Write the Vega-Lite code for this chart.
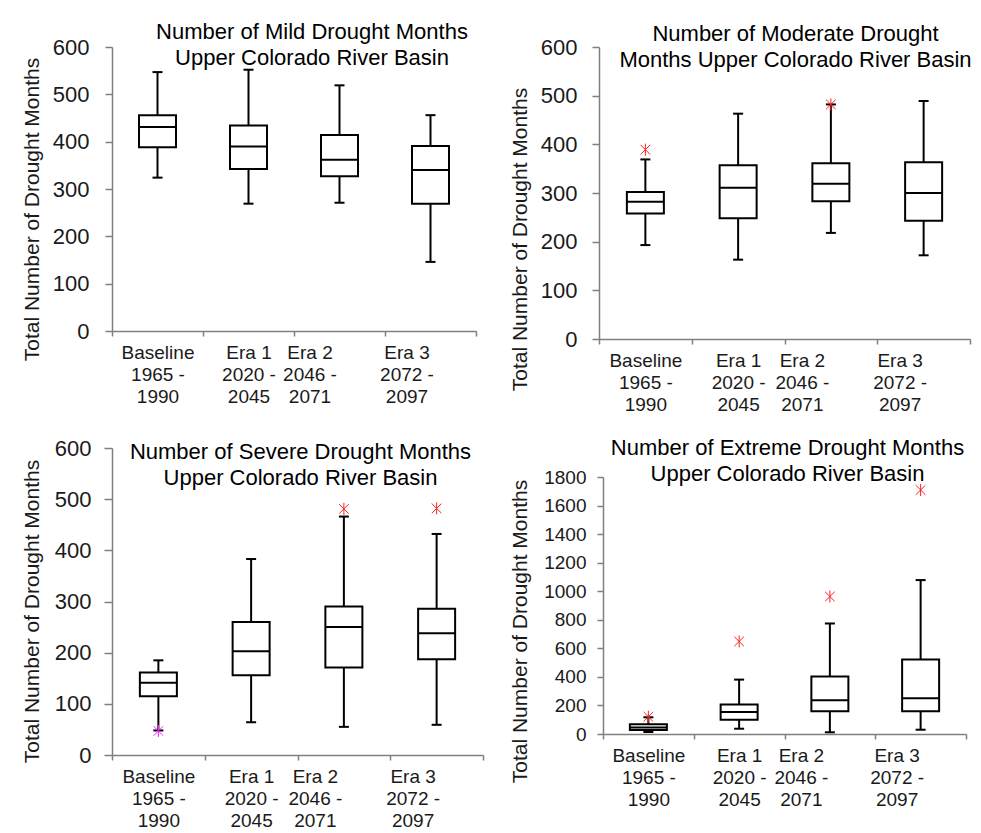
{
  "$schema": "https://vega.github.io/schema/vega-lite/v6.json",
  "background": "white",
  "padding": {"left": 21, "top": 21, "right": 0, "bottom": 0},
  "config": {
    "font": "Liberation Sans",
    "view": {"stroke": null},
    "axis": {
      "domainColor": "#7f7f7f", "domainWidth": 1.5, "tickColor": "#7f7f7f", "tickWidth": 1.5,
      "labelColor": "#1a1a1a", "titleColor": "#1a1a1a", "labelFont": "Liberation Sans", "titleFont": "Liberation Sans",
      "titleFontWeight": "normal", "grid": false
    },
    "axisY": {"labelFontSize": 22, "labelPadding": 15, "tickSize": 7, "titleFontSize": 21, "format": "d", "labelOverlap": false, "labelBound": false},
    "title": {"font": "Liberation Sans", "fontWeight": "normal", "color": "#000000", "fontSize": 22, "lineHeight": 26, "frame": "group", "anchor": "middle"}
  },
  "datasets": {
    "boxes": [
      {"panel": "Mild", "era": "Baseline|1965 -|1990", "min": 324, "q1": 388, "med": 431, "q3": 456, "max": 547},
      {"panel": "Mild", "era": "Era 1|2020 -|2045", "min": 269, "q1": 342, "med": 390, "q3": 434, "max": 552},
      {"panel": "Mild", "era": "Era 2|2046 -|2071", "min": 271, "q1": 327, "med": 362, "q3": 414, "max": 519},
      {"panel": "Mild", "era": "Era 3|2072 -|2097", "min": 146, "q1": 269, "med": 340, "q3": 391, "max": 456},
      {"panel": "Moderate", "era": "Baseline|1965 -|1990", "min": 193, "q1": 258, "med": 282, "q3": 302, "max": 369},
      {"panel": "Moderate", "era": "Era 1|2020 -|2045", "min": 163, "q1": 248, "med": 311, "q3": 357, "max": 463},
      {"panel": "Moderate", "era": "Era 2|2046 -|2071", "min": 218, "q1": 283, "med": 319, "q3": 361, "max": 482},
      {"panel": "Moderate", "era": "Era 3|2072 -|2097", "min": 172, "q1": 243, "med": 300, "q3": 363, "max": 489},
      {"panel": "Severe", "era": "Baseline|1965 -|1990", "min": 48, "q1": 115, "med": 141, "q3": 161, "max": 185},
      {"panel": "Severe", "era": "Era 1|2020 -|2045", "min": 64, "q1": 156, "med": 203, "q3": 260, "max": 383},
      {"panel": "Severe", "era": "Era 2|2046 -|2071", "min": 55, "q1": 171, "med": 250, "q3": 290, "max": 466},
      {"panel": "Severe", "era": "Era 3|2072 -|2097", "min": 59, "q1": 187, "med": 238, "q3": 286, "max": 432},
      {"panel": "Extreme", "era": "Baseline|1965 -|1990", "min": 14, "q1": 28, "med": 45, "q3": 68, "max": 117},
      {"panel": "Extreme", "era": "Era 1|2020 -|2045", "min": 37, "q1": 100, "med": 154, "q3": 206, "max": 381},
      {"panel": "Extreme", "era": "Era 2|2046 -|2071", "min": 12, "q1": 159, "med": 236, "q3": 402, "max": 774},
      {"panel": "Extreme", "era": "Era 3|2072 -|2097", "min": 30, "q1": 159, "med": 250, "q3": 521, "max": 1078}
    ],
    "outliers": [
      {"panel": "Moderate", "era": "Baseline|1965 -|1990", "value": 389, "color": "#ff2020"},
      {"panel": "Moderate", "era": "Era 2|2046 -|2071", "value": 482, "color": "#ff2020"},
      {"panel": "Severe", "era": "Baseline|1965 -|1990", "value": 47, "color": "#ff20ff"},
      {"panel": "Severe", "era": "Era 2|2046 -|2071", "value": 481, "color": "#ff2020"},
      {"panel": "Severe", "era": "Era 3|2072 -|2097", "value": 482, "color": "#ff2020"},
      {"panel": "Extreme", "era": "Baseline|1965 -|1990", "value": 121, "color": "#ff2020"},
      {"panel": "Extreme", "era": "Era 1|2020 -|2045", "value": 648, "color": "#ff2020"},
      {"panel": "Extreme", "era": "Era 2|2046 -|2071", "value": 963, "color": "#ff2020"},
      {"panel": "Extreme", "era": "Era 3|2072 -|2097", "value": 1709, "color": "#ff2020"}
    ]
  },
  "columns": 2,
  "align": "none",
  "spacing": {"row": 23, "column": 25},
  "concat": [
    {
      "width": 364, "height": 284,
      "title": {"text": ["Number of Mild Drought Months", "Upper Colorado River Basin"], "offset": -34, "dx": 18},
      "encoding": {
        "x": {"field": "era", "type": "nominal",
          "scale": {"domain": ["Baseline|1965 -|1990", "Era 1|2020 -|2045", "Era 2|2046 -|2071", "Era 3|2072 -|2097"], "paddingInner": 0, "paddingOuter": 0},
          "axis": {"title": null, "labelAngle": 0, "labelExpr": "split(datum.label, '|')", "labelFontSize": 19, "labelLineHeight": 22, "labelPadding": 7, "tickSize": 5, "tickBand": "extent",
            "labelOffset": {"condition": [{"test": "datum.value == 'Era 2|2046 -|2071'", "value": -30}, {"test": "datum.value == 'Era 3|2072 -|2097'", "value": -24}], "value": 0}}}
      },
      "layer": [
        {"data": {"name": "boxes"}, "transform": [{"filter": "datum.panel == 'Mild'"}],
          "mark": {"type": "rule", "color": "black", "strokeWidth": 2},
          "encoding": {"y": {"field": "min", "type": "quantitative", "scale": {"domain": [0, 600], "nice": false},
            "axis": {"title": "Total Number of Drought Months", "values": [0, 100, 200, 300, 400, 500, 600], "labelFontSize": 22, "labelPadding": 16, "tickSize": 7, "titlePadding": 10, "titleY": 162}},
            "y2": {"field": "max"}}},
        {"data": {"name": "boxes"}, "transform": [{"filter": "datum.panel == 'Mild'"}],
          "mark": {"type": "bar", "size": 37, "fill": "white", "stroke": "black", "strokeWidth": 2},
          "encoding": {"y": {"field": "q1", "type": "quantitative", "scale": {"domain": [0, 600], "nice": false},
            "axis": {"title": "Total Number of Drought Months", "values": [0, 100, 200, 300, 400, 500, 600], "labelFontSize": 22, "labelPadding": 16, "tickSize": 7, "titlePadding": 10, "titleY": 162}}, "y2": {"field": "q3"}}},
        {"data": {"name": "boxes"}, "transform": [{"filter": "datum.panel == 'Mild'"}],
          "mark": {"type": "tick", "size": 37, "thickness": 2, "color": "black", "opacity": 1},
          "encoding": {"y": {"field": "med", "type": "quantitative", "scale": {"domain": [0, 600], "nice": false},
            "axis": {"title": "Total Number of Drought Months", "values": [0, 100, 200, 300, 400, 500, 600], "labelFontSize": 22, "labelPadding": 16, "tickSize": 7, "titlePadding": 10, "titleY": 162}}}},
        {"data": {"name": "boxes"}, "transform": [{"filter": "datum.panel == 'Mild'"}],
          "mark": {"type": "tick", "size": 10, "thickness": 2, "color": "black", "opacity": 1},
          "encoding": {"y": {"field": "min", "type": "quantitative", "scale": {"domain": [0, 600], "nice": false},
            "axis": {"title": "Total Number of Drought Months", "values": [0, 100, 200, 300, 400, 500, 600], "labelFontSize": 22, "labelPadding": 16, "tickSize": 7, "titlePadding": 10, "titleY": 162}}}},
        {"data": {"name": "boxes"}, "transform": [{"filter": "datum.panel == 'Mild'"}],
          "mark": {"type": "tick", "size": 10, "thickness": 2, "color": "black", "opacity": 1},
          "encoding": {"y": {"field": "max", "type": "quantitative", "scale": {"domain": [0, 600], "nice": false},
            "axis": {"title": "Total Number of Drought Months", "values": [0, 100, 200, 300, 400, 500, 600], "labelFontSize": 22, "labelPadding": 16, "tickSize": 7, "titlePadding": 10, "titleY": 162}}}}
      ]
    },
    {
      "width": 371, "height": 292,
      "title": {"text": ["Number of Moderate Drought", "Months Upper Colorado River Basin"], "offset": -36, "dx": 11},
      "encoding": {
        "x": {"field": "era", "type": "nominal",
          "scale": {"domain": ["Baseline|1965 -|1990", "Era 1|2020 -|2045", "Era 2|2046 -|2071", "Era 3|2072 -|2097"], "paddingInner": 0, "paddingOuter": 0},
          "axis": {"title": null, "labelAngle": 0, "labelExpr": "split(datum.label, '|')", "labelFontSize": 19, "labelLineHeight": 22, "labelPadding": 7, "tickSize": 5, "tickBand": "extent",
            "labelOffset": {"condition": [{"test": "datum.value == 'Era 2|2046 -|2071'", "value": -29}, {"test": "datum.value == 'Era 3|2072 -|2097'", "value": -24}], "value": 0}}}
      },
      "layer": [
        {"data": {"name": "boxes"}, "transform": [{"filter": "datum.panel == 'Moderate'"}],
          "mark": {"type": "rule", "color": "black", "strokeWidth": 2},
          "encoding": {"y": {"field": "min", "type": "quantitative", "scale": {"domain": [0, 600], "nice": false},
            "axis": {"title": "Total Number of Drought Months", "values": [0, 100, 200, 300, 400, 500, 600], "labelFontSize": 22, "labelPadding": 15, "tickSize": 7, "titlePadding": 10, "titleY": 192}},
            "y2": {"field": "max"}}},
        {"data": {"name": "boxes"}, "transform": [{"filter": "datum.panel == 'Moderate'"}],
          "mark": {"type": "bar", "size": 37, "fill": "white", "stroke": "black", "strokeWidth": 2},
          "encoding": {"y": {"field": "q1", "type": "quantitative", "scale": {"domain": [0, 600], "nice": false},
            "axis": {"title": "Total Number of Drought Months", "values": [0, 100, 200, 300, 400, 500, 600], "labelFontSize": 22, "labelPadding": 15, "tickSize": 7, "titlePadding": 10, "titleY": 192}}, "y2": {"field": "q3"}}},
        {"data": {"name": "boxes"}, "transform": [{"filter": "datum.panel == 'Moderate'"}],
          "mark": {"type": "tick", "size": 37, "thickness": 2, "color": "black", "opacity": 1},
          "encoding": {"y": {"field": "med", "type": "quantitative", "scale": {"domain": [0, 600], "nice": false},
            "axis": {"title": "Total Number of Drought Months", "values": [0, 100, 200, 300, 400, 500, 600], "labelFontSize": 22, "labelPadding": 15, "tickSize": 7, "titlePadding": 10, "titleY": 192}}}},
        {"data": {"name": "boxes"}, "transform": [{"filter": "datum.panel == 'Moderate'"}],
          "mark": {"type": "tick", "size": 10, "thickness": 2, "color": "black", "opacity": 1},
          "encoding": {"y": {"field": "min", "type": "quantitative", "scale": {"domain": [0, 600], "nice": false},
            "axis": {"title": "Total Number of Drought Months", "values": [0, 100, 200, 300, 400, 500, 600], "labelFontSize": 22, "labelPadding": 15, "tickSize": 7, "titlePadding": 10, "titleY": 192}}}},
        {"data": {"name": "boxes"}, "transform": [{"filter": "datum.panel == 'Moderate'"}],
          "mark": {"type": "tick", "size": 10, "thickness": 2, "color": "black", "opacity": 1},
          "encoding": {"y": {"field": "max", "type": "quantitative", "scale": {"domain": [0, 600], "nice": false},
            "axis": {"title": "Total Number of Drought Months", "values": [0, 100, 200, 300, 400, 500, 600], "labelFontSize": 22, "labelPadding": 15, "tickSize": 7, "titlePadding": 10, "titleY": 192}}}},
        {"data": {"name": "outliers"}, "transform": [{"filter": "datum.panel == 'Moderate'"}],
          "mark": {"type": "point", "shape": "M-0.8,-0.8L0.8,0.8M-0.8,0.8L0.8,-0.8M0,-1L0,1", "size": 144, "strokeWidth": 1, "filled": false, "opacity": 1},
          "encoding": {"y": {"field": "value", "type": "quantitative", "scale": {"domain": [0, 600], "nice": false},
            "axis": {"title": "Total Number of Drought Months", "values": [0, 100, 200, 300, 400, 500, 600], "labelFontSize": 22, "labelPadding": 15, "tickSize": 7, "titlePadding": 10, "titleY": 192}},
            "color": {"field": "color", "type": "nominal", "scale": null}}}
      ]
    },
    {
      "width": 371, "height": 307,
      "title": {"text": ["Number of Severe Drought Months", "Upper Colorado River Basin"], "offset": -53, "dx": 3},
      "encoding": {
        "x": {"field": "era", "type": "nominal",
          "scale": {"domain": ["Baseline|1965 -|1990", "Era 1|2020 -|2045", "Era 2|2046 -|2071", "Era 3|2072 -|2097"], "paddingInner": 0, "paddingOuter": 0},
          "axis": {"title": null, "labelAngle": 0, "labelExpr": "split(datum.label, '|')", "labelFontSize": 19, "labelLineHeight": 22, "labelPadding": 7, "tickSize": 5, "tickBand": "extent",
            "labelOffset": {"condition": [{"test": "datum.value == 'Era 2|2046 -|2071'", "value": -29}, {"test": "datum.value == 'Era 3|2072 -|2097'", "value": -24}], "value": 0}}}
      },
      "layer": [
        {"data": {"name": "boxes"}, "transform": [{"filter": "datum.panel == 'Severe'"}],
          "mark": {"type": "rule", "color": "black", "strokeWidth": 2},
          "encoding": {"y": {"field": "min", "type": "quantitative", "scale": {"domain": [0, 600], "nice": false},
            "axis": {"title": "Total Number of Drought Months", "values": [0, 100, 200, 300, 400, 500, 600], "labelFontSize": 22, "labelPadding": 13, "tickSize": 8, "titlePadding": 12, "titleY": 163}},
            "y2": {"field": "max"}}},
        {"data": {"name": "boxes"}, "transform": [{"filter": "datum.panel == 'Severe'"}],
          "mark": {"type": "bar", "size": 37, "fill": "white", "stroke": "black", "strokeWidth": 2},
          "encoding": {"y": {"field": "q1", "type": "quantitative", "scale": {"domain": [0, 600], "nice": false},
            "axis": {"title": "Total Number of Drought Months", "values": [0, 100, 200, 300, 400, 500, 600], "labelFontSize": 22, "labelPadding": 13, "tickSize": 8, "titlePadding": 12, "titleY": 163}}, "y2": {"field": "q3"}}},
        {"data": {"name": "boxes"}, "transform": [{"filter": "datum.panel == 'Severe'"}],
          "mark": {"type": "tick", "size": 37, "thickness": 2, "color": "black", "opacity": 1},
          "encoding": {"y": {"field": "med", "type": "quantitative", "scale": {"domain": [0, 600], "nice": false},
            "axis": {"title": "Total Number of Drought Months", "values": [0, 100, 200, 300, 400, 500, 600], "labelFontSize": 22, "labelPadding": 13, "tickSize": 8, "titlePadding": 12, "titleY": 163}}}},
        {"data": {"name": "boxes"}, "transform": [{"filter": "datum.panel == 'Severe'"}],
          "mark": {"type": "tick", "size": 10, "thickness": 2, "color": "black", "opacity": 1},
          "encoding": {"y": {"field": "min", "type": "quantitative", "scale": {"domain": [0, 600], "nice": false},
            "axis": {"title": "Total Number of Drought Months", "values": [0, 100, 200, 300, 400, 500, 600], "labelFontSize": 22, "labelPadding": 13, "tickSize": 8, "titlePadding": 12, "titleY": 163}}}},
        {"data": {"name": "boxes"}, "transform": [{"filter": "datum.panel == 'Severe'"}],
          "mark": {"type": "tick", "size": 10, "thickness": 2, "color": "black", "opacity": 1},
          "encoding": {"y": {"field": "max", "type": "quantitative", "scale": {"domain": [0, 600], "nice": false},
            "axis": {"title": "Total Number of Drought Months", "values": [0, 100, 200, 300, 400, 500, 600], "labelFontSize": 22, "labelPadding": 13, "tickSize": 8, "titlePadding": 12, "titleY": 163}}}},
        {"data": {"name": "outliers"}, "transform": [{"filter": "datum.panel == 'Severe'"}],
          "mark": {"type": "point", "shape": "M-0.8,-0.8L0.8,0.8M-0.8,0.8L0.8,-0.8M0,-1L0,1", "size": 144, "strokeWidth": 1, "filled": false, "opacity": 1},
          "encoding": {"y": {"field": "value", "type": "quantitative", "scale": {"domain": [0, 600], "nice": false},
            "axis": {"title": "Total Number of Drought Months", "values": [0, 100, 200, 300, 400, 500, 600], "labelFontSize": 22, "labelPadding": 13, "tickSize": 8, "titlePadding": 12, "titleY": 163}},
            "color": {"field": "color", "type": "nominal", "scale": null}}}
      ]
    },
    {
      "width": 363, "height": 257,
      "title": {"text": ["Number of Extreme Drought Months", "Upper Colorado River Basin"], "offset": -18, "dx": 3},
      "encoding": {
        "x": {"field": "era", "type": "nominal",
          "scale": {"domain": ["Baseline|1965 -|1990", "Era 1|2020 -|2045", "Era 2|2046 -|2071", "Era 3|2072 -|2097"], "paddingInner": 0, "paddingOuter": 0},
          "axis": {"title": null, "labelAngle": 0, "labelExpr": "split(datum.label, '|')", "labelFontSize": 19, "labelLineHeight": 22, "labelPadding": 7, "tickSize": 5, "tickBand": "extent",
            "labelOffset": {"condition": [{"test": "datum.value == 'Era 2|2046 -|2071'", "value": -29}, {"test": "datum.value == 'Era 3|2072 -|2097'", "value": -24}], "value": 0}}}
      },
      "layer": [
        {"data": {"name": "boxes"}, "transform": [{"filter": "datum.panel == 'Extreme'"}],
          "mark": {"type": "rule", "color": "black", "strokeWidth": 2},
          "encoding": {"y": {"field": "min", "type": "quantitative", "scale": {"domain": [0, 1800], "nice": false},
            "axis": {"title": "Total Number of Drought Months", "values": [0, 200, 400, 600, 800, 1000, 1200, 1400, 1600, 1800], "labelFontSize": 19, "labelPadding": 11, "tickSize": 6, "titlePadding": 13, "titleY": 154}},
            "y2": {"field": "max"}}},
        {"data": {"name": "boxes"}, "transform": [{"filter": "datum.panel == 'Extreme'"}],
          "mark": {"type": "bar", "size": 37, "fill": "white", "stroke": "black", "strokeWidth": 2},
          "encoding": {"y": {"field": "q1", "type": "quantitative", "scale": {"domain": [0, 1800], "nice": false},
            "axis": {"title": "Total Number of Drought Months", "values": [0, 200, 400, 600, 800, 1000, 1200, 1400, 1600, 1800], "labelFontSize": 19, "labelPadding": 11, "tickSize": 6, "titlePadding": 13, "titleY": 154}}, "y2": {"field": "q3"}}},
        {"data": {"name": "boxes"}, "transform": [{"filter": "datum.panel == 'Extreme'"}],
          "mark": {"type": "tick", "size": 37, "thickness": 2, "color": "black", "opacity": 1},
          "encoding": {"y": {"field": "med", "type": "quantitative", "scale": {"domain": [0, 1800], "nice": false},
            "axis": {"title": "Total Number of Drought Months", "values": [0, 200, 400, 600, 800, 1000, 1200, 1400, 1600, 1800], "labelFontSize": 19, "labelPadding": 11, "tickSize": 6, "titlePadding": 13, "titleY": 154}}}},
        {"data": {"name": "boxes"}, "transform": [{"filter": "datum.panel == 'Extreme'"}],
          "mark": {"type": "tick", "size": 10, "thickness": 2, "color": "black", "opacity": 1},
          "encoding": {"y": {"field": "min", "type": "quantitative", "scale": {"domain": [0, 1800], "nice": false},
            "axis": {"title": "Total Number of Drought Months", "values": [0, 200, 400, 600, 800, 1000, 1200, 1400, 1600, 1800], "labelFontSize": 19, "labelPadding": 11, "tickSize": 6, "titlePadding": 13, "titleY": 154}}}},
        {"data": {"name": "boxes"}, "transform": [{"filter": "datum.panel == 'Extreme'"}],
          "mark": {"type": "tick", "size": 10, "thickness": 2, "color": "black", "opacity": 1},
          "encoding": {"y": {"field": "max", "type": "quantitative", "scale": {"domain": [0, 1800], "nice": false},
            "axis": {"title": "Total Number of Drought Months", "values": [0, 200, 400, 600, 800, 1000, 1200, 1400, 1600, 1800], "labelFontSize": 19, "labelPadding": 11, "tickSize": 6, "titlePadding": 13, "titleY": 154}}}},
        {"data": {"name": "outliers"}, "transform": [{"filter": "datum.panel == 'Extreme'"}],
          "mark": {"type": "point", "shape": "M-0.8,-0.8L0.8,0.8M-0.8,0.8L0.8,-0.8M0,-1L0,1", "size": 144, "strokeWidth": 1, "filled": false, "opacity": 1},
          "encoding": {"y": {"field": "value", "type": "quantitative", "scale": {"domain": [0, 1800], "nice": false},
            "axis": {"title": "Total Number of Drought Months", "values": [0, 200, 400, 600, 800, 1000, 1200, 1400, 1600, 1800], "labelFontSize": 19, "labelPadding": 11, "tickSize": 6, "titlePadding": 13, "titleY": 154}},
            "color": {"field": "color", "type": "nominal", "scale": null}}}
      ]
    }
  ]
}
